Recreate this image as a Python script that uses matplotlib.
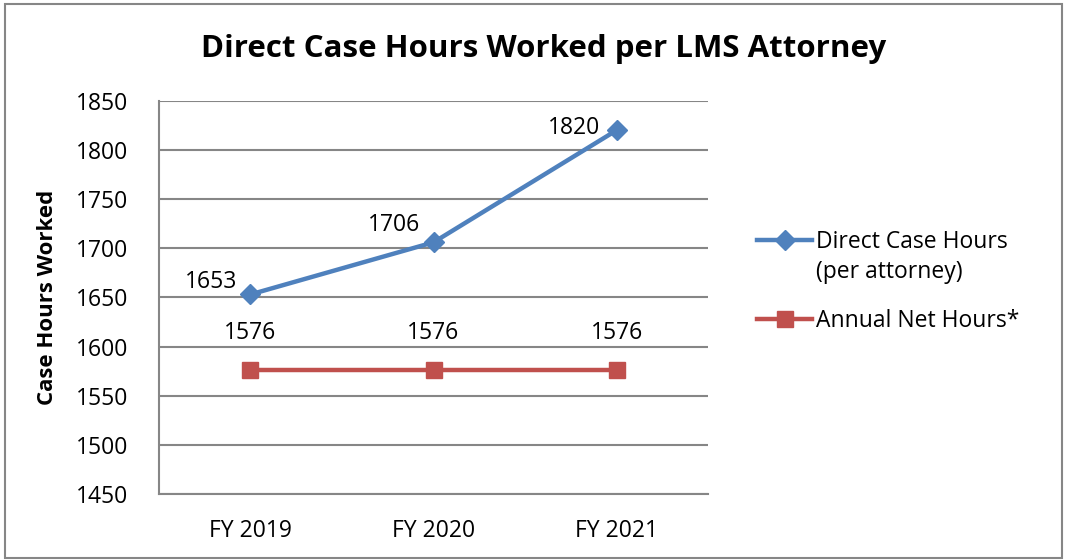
import matplotlib
matplotlib.use("Agg")
import matplotlib.pyplot as plt
from matplotlib.patches import Rectangle

plt.rcParams['font.family'] = ['Open Sans', 'DejaVu Sans']

years = ["FY 2019", "FY 2020", "FY 2021"]
direct_hours = [1653, 1706, 1820]
net_hours = [1576, 1576, 1576]

blue = "#4F81BD"
red = "#C0504D"
grid = "#868686"

fig = plt.figure(figsize=(10.67, 5.6), dpi=100)
ax = fig.add_axes([0.149, 0.118, 0.5146, 0.702])

x = list(range(len(years)))
ax.plot(x, direct_hours, '-D', color=blue, lw=3.2, ms=10, label="Direct Case Hours")
ax.plot(x, net_hours, '-s', color=red, lw=3.2, ms=12, label="Annual Net Hours*")

# data labels
blue_off = [(-13, 12), (-13, 17), (-16, 2)]
for xi, v, off in zip(x, direct_hours, blue_off):
    ax.annotate(str(v), (xi, v), xytext=off, textcoords='offset pixels',
                ha='right', va='center', fontsize=16.5)
for xi, v in zip(x, net_hours):
    ax.annotate(str(v), (xi, v), xytext=(0, 37), textcoords='offset pixels',
                ha='center', va='center', fontsize=16.5)

ax.set_xlim(-0.5, 2.5)
ax.set_ylim(1450, 1850)
ax.set_yticks(range(1450, 1851, 50))
ax.set_xticks(x)
ax.set_xticklabels(years)
ax.tick_params(axis='both', length=0, labelsize=16.5)
ax.tick_params(axis='y', pad=22)
ax.tick_params(axis='x', pad=18)
ax.grid(axis='y', color=grid, lw=1.5)
ax.set_axisbelow(True)
for s in ['top', 'right']:
    ax.spines[s].set_visible(False)
for s in ['left', 'bottom']:
    ax.spines[s].set_color(grid)
    ax.spines[s].set_linewidth(1.5)

ax.set_ylabel("Case Hours Worked", fontsize=16, fontweight='bold', labelpad=13)
fig.text(0.509, 0.913, "Direct Case Hours Worked per LMS Attorney", ha='center', va='center',
         fontsize=22.5, fontweight='bold')

leg = fig.legend(loc='upper left', bbox_to_anchor=(0.7095, 0.589), frameon=False,
                 fontsize=16.5, handlelength=2.4, handletextpad=0.17, labelspacing=2.4,
                 borderpad=0, borderaxespad=0)

# second line of the first legend entry
fig.canvas.draw()
bb = leg.get_texts()[0].get_window_extent()
fig.text(bb.x0 / fig.bbox.width, (bb.y0 + bb.y1) / 2 / fig.bbox.height - 30 / 560,
         "(per attorney)", ha='left', va='center', fontsize=16.5)

fig.patches.append(Rectangle((0.005, 0.003), 0.99, 0.99, transform=fig.transFigure,
                             fill=False, edgecolor=grid, lw=1.5))

fig.savefig("out.png", dpi=100)
